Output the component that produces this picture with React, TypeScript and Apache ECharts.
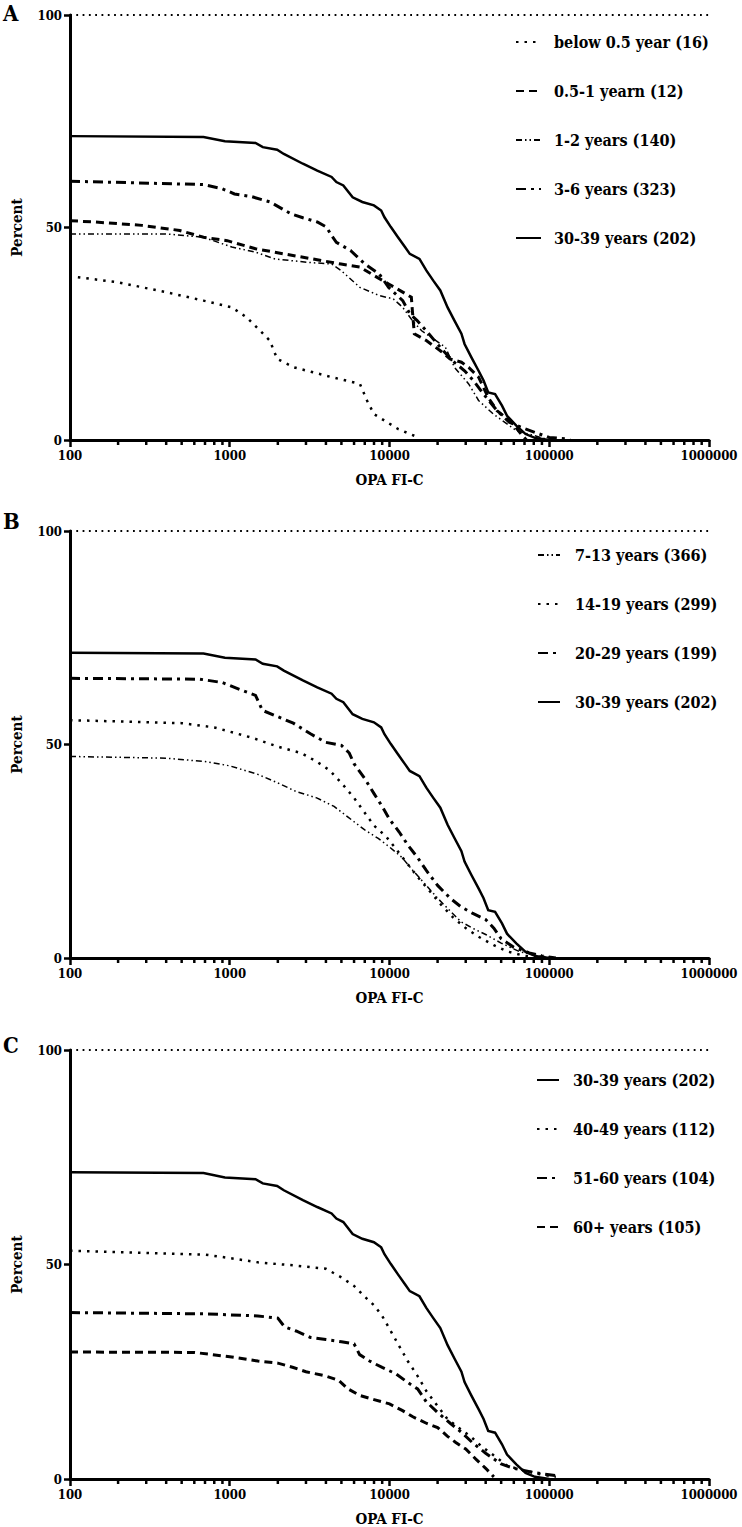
import React, { useEffect, useRef } from "react";
import * as echarts from "echarts";

const FONT = "DejaVu Serif Condensed, DejaVu Serif, serif";

const xTickLabels = [100, 1000, 10000, 100000, 1000000];
const minorTicks = [
  200, 300, 400, 500, 600, 700, 800, 900,
  2000, 3000, 4000, 5000, 6000, 7000, 8000, 9000,
  20000, 30000, 40000, 50000, 60000, 70000, 80000, 90000,
  200000, 300000, 400000, 500000, 600000, 700000, 800000, 900000,
];
const yTicks = [0, 50, 100];

const g3039X = [100, 685, 933, 1450, 1610, 1980, 2180, 2870, 3530, 4340, 4650, 5140, 5880, 6760, 7990, 8870, 9300, 10200, 11300, 12500, 13400, 15400, 17000, 18800, 20800, 23100, 25500, 28200, 29500, 32500, 36100, 38800, 41500, 45800, 50600, 54400, 62200, 71100, 81300, 100000];
const g3039Y = [71.5, 71.3, 70.3, 69.9, 68.9, 68.3, 67.3, 65.0, 63.4, 61.9, 60.7, 59.9, 57.1, 56.0, 55.2, 54.0, 52.4, 50.1, 47.7, 45.4, 43.8, 42.6, 39.9, 37.5, 35.2, 31.2, 28.1, 25.0, 22.6, 19.5, 16.3, 14.0, 11.2, 10.8, 8.1, 5.7, 3.4, 1.4, 0.5, 0];

const aBelowX = [112, 200, 397, 685, 1030, 1270, 1550, 1780, 1980, 2520, 4340, 6530, 7230, 7990, 11300, 14300];
const aBelowY = [38.3, 37.1, 34.8, 32.8, 31.2, 28.9, 25.7, 23.4, 19.1, 17.1, 14.8, 13.2, 9.3, 6.1, 2.6, 1.0];
const aHalfX = [100, 142, 282, 487, 685, 964, 1450, 2180, 3300, 4970, 6530, 7990, 9880, 12100, 13700, 13900, 14300, 17000, 20800, 23900, 28200, 31300, 36100, 41500, 47100, 58200, 66600, 72000];
const aHalfY = [51.6, 51.3, 50.5, 49.3, 47.7, 46.9, 45.0, 43.8, 42.6, 41.4, 40.7, 38.7, 36.7, 34.8, 33.6, 30.5, 25.0, 23.4, 21.0, 19.1, 18.3, 17.1, 14.8, 10.0, 6.9, 4.2, 1.4, 0];
const a12X = [100, 397, 685, 1030, 1450, 1920, 3080, 4340, 4970, 6530, 8610, 10560, 12100, 13900, 15900, 18200, 22400, 25500, 31300, 36100, 44700, 54400, 62200, 81300, 100000];
const a12Y = [48.5, 48.5, 47.7, 45.4, 44.2, 42.6, 41.8, 41.4, 39.9, 35.9, 34.0, 33.2, 31.2, 28.1, 25.7, 24.2, 21.8, 17.1, 13.2, 9.3, 6.1, 3.8, 2.2, 1.0, 0];
const a36X = [100, 685, 900, 1070, 1360, 1790, 2420, 2870, 3530, 4030, 4340, 4650, 5700, 7010, 8610, 9880, 12100, 13400, 14900, 17000, 20800, 24700, 29500, 33500, 38800, 47100, 56200, 66600, 81300, 100000, 132000, 135000];
const a36Y = [60.9, 60.1, 59.1, 57.9, 57.3, 56.0, 53.2, 52.3, 51.3, 50.1, 48.1, 46.5, 44.6, 41.4, 39.1, 35.9, 32.8, 29.7, 28.1, 25.7, 21.8, 18.7, 16.3, 14.0, 10.8, 6.9, 4.2, 3.0, 1.8, 0.6, 0.2, 0];

const b713X = [100, 400, 700, 1000, 1500, 2000, 2600, 3500, 4500, 5500, 7000, 8500, 10000, 12000, 14000, 17000, 20000, 24000, 28000, 33000, 40000, 50000, 65000, 85000, 110000];
const b713Y = [47.2, 46.8, 46.0, 45.0, 43.0, 41.0, 39.0, 37.5, 35.5, 33.0, 30.0, 28.0, 26.0, 23.5, 20.5, 17.0, 14.0, 11.0, 8.5, 7.0, 5.5, 3.5, 1.5, 0.5, 0];
const b1419X = [100, 500, 800, 1000, 1400, 2000, 2800, 3500, 4200, 5000, 6000, 7000, 8000, 9500, 11000, 13000, 15000, 18000, 21000, 25000, 30000, 36000, 45000, 55000, 70000, 90000];
const b1419Y = [55.7, 55.0, 54.0, 53.0, 51.5, 49.5, 48.0, 46.0, 44.0, 41.0, 37.5, 34.0, 31.0, 28.5, 25.5, 22.0, 19.0, 15.5, 12.5, 9.5, 7.0, 5.0, 3.0, 1.5, 0.5, 0];
const b2029X = [100, 650, 900, 1100, 1450, 1600, 2000, 2500, 3200, 4000, 5000, 5600, 6000, 7000, 8000, 9000, 10000, 11500, 13000, 15000, 17000, 20000, 24000, 28000, 33000, 40000, 45000, 50000, 60000, 75000, 90000, 110000];
const b2029Y = [65.5, 65.3, 64.5, 63.2, 61.5, 58.0, 56.5, 55.0, 52.5, 50.5, 49.8, 48.0, 45.5, 42.0, 38.5, 35.5, 32.5, 29.5, 26.5, 23.5, 20.5, 17.0, 14.0, 12.0, 10.5, 9.0, 7.0, 4.5, 2.5, 1.2, 0.5, 0];

const c4049X = [100, 700, 1000, 1500, 2500, 4000, 5000, 6000, 7000, 8000, 9000, 10000, 11500, 13000, 15000, 17000, 20000, 23000, 27000, 32000, 38000, 45000, 55000, 70000, 90000, 110000];
const c4049Y = [53.2, 52.3, 51.5, 50.5, 49.8, 49.0, 47.0, 45.0, 42.5, 40.5, 38.0, 35.0, 31.0, 27.5, 24.0, 20.5, 17.0, 14.0, 12.0, 10.0, 7.5, 5.5, 3.0, 2.0, 1.0, 0.5];
const c5160X = [100, 700, 1500, 2000, 2200, 2600, 3200, 4000, 5000, 6000, 6500, 7500, 9000, 11000, 13000, 15000, 17000, 20000, 24000, 28000, 33000, 40000, 50000, 60000, 80000, 100000, 110000];
const c5160Y = [38.8, 38.5, 38.0, 37.5, 35.5, 34.5, 33.0, 32.5, 32.0, 31.5, 29.0, 27.5, 26.0, 24.5, 22.5, 21.0, 18.0, 15.5, 13.0, 11.0, 8.5, 6.0, 3.5, 2.5, 1.5, 1.0, 0.8];
const c60X = [100, 600, 1000, 1500, 2000, 2500, 3000, 4000, 4800, 5500, 6500, 8000, 10000, 12000, 14000, 17000, 20000, 23000, 26000, 30000, 35000, 40000, 45000];
const c60Y = [29.6, 29.5, 28.5, 27.5, 27.0, 26.0, 25.0, 24.0, 23.0, 21.0, 19.5, 18.5, 17.5, 16.0, 14.5, 13.0, 12.0, 10.0, 8.5, 7.0, 4.5, 2.5, 0.5];

const STYLES: Record<string, any> = {
  solid: { width: 2.5, type: "solid" },
  dotted: { width: 2.5, type: [2.5, 6] },
  dashed: { width: 3, type: [8, 5] },
  dashdot: { width: 3, type: [10, 5, 3, 5] },
  dashdotdot: { width: 1.5, type: [6, 3, 1.5, 3, 1.5, 3] },
};

const panels = [
  {
    label: "A", labelTop: 2, top: 15, height: 425, legendLeft: 510, legendTop: 29, iconW: 25, textPad: 8,
    series: [
      { name: "below 0.5 year (16)", x: aBelowX, y: aBelowY, style: "dotted" },
      { name: "0.5-1 yearn (12)", x: aHalfX, y: aHalfY, style: "dashed" },
      { name: "1-2 years (140)", x: a12X, y: a12Y, style: "dashdotdot" },
      { name: "3-6 years (323)", x: a36X, y: a36Y, style: "dashdot" },
      { name: "30-39 years (202)", x: g3039X, y: g3039Y, style: "solid" },
    ],
  },
  {
    label: "B", labelTop: 510, top: 531, height: 427, legendLeft: 532, legendTop: 542, iconW: 22, textPad: 10,
    series: [
      { name: "7-13 years (366)", x: b713X, y: b713Y, style: "dashdotdot" },
      { name: "14-19 years (299)", x: b1419X, y: b1419Y, style: "dotted" },
      { name: "20-29 years (199)", x: b2029X, y: b2029Y, style: "dashdot" },
      { name: "30-39 years (202)", x: g3039X, y: g3039Y, style: "solid" },
    ],
  },
  {
    label: "C", labelTop: 1034, top: 1050, height: 431, legendLeft: 531, legendTop: 1067, iconW: 22, textPad: 9,
    series: [
      { name: "30-39 years (202)", x: g3039X, y: g3039Y, style: "solid" },
      { name: "40-49 years (112)", x: c4049X, y: c4049Y, style: "dotted" },
      { name: "51-60 years (104)", x: c5160X, y: c5160Y, style: "dashdot" },
      { name: "60+ years (105)", x: c60X, y: c60Y, style: "dashed" },
    ],
  },
];

export default function App() {
  const ref = useRef<HTMLDivElement>(null);
  useEffect(() => {
    if (!ref.current) return;
    const chart = echarts.init(ref.current, undefined, { renderer: "svg" });
    const textBold = { fontFamily: FONT, fontWeight: "bold" as const, color: "#000" };

    const grid: any[] = [];
    const xAxis: any[] = [];
    const yAxis: any[] = [];
    const series: any[] = [];
    const legend: any[] = [];
    const title: any[] = [];

    panels.forEach((p, i) => {
      grid.push({ left: 70, right: 33, top: p.top, height: p.height, containLabel: false });
      xAxis.push({
        type: "log", logBase: 10, min: 100, max: 1000000, gridIndex: i,
        axisLine: { show: true, onZero: false, lineStyle: { color: "#000", width: 3 } },
        axisTick: { show: true, length: 7, lineStyle: { color: "#000", width: 2.5 } },
        axisLabel: {
          ...textBold, fontSize: 13, margin: 9,
          formatter: (v: number) => {
            const r = Math.round(v);
            return xTickLabels.includes(r) ? String(r) : "";
          },
        },
        splitLine: { show: false },
        minorTick: { show: false },
        name: "OPA FI-C", nameLocation: "middle", nameGap: 32,
        nameTextStyle: { ...textBold, fontSize: 15 },
      });
      yAxis.push({
        type: "value", min: 0, max: 100, interval: 50, gridIndex: i,
        axisLine: { show: true, lineStyle: { color: "#000", width: 3 } },
        axisTick: { show: true, length: 6, lineStyle: { color: "#000", width: 2.5 } },
        axisLabel: {
          ...textBold, fontSize: 13, margin: 8,
          formatter: (v: number) => (yTicks.includes(v) ? String(v) : ""),
        },
        splitLine: { show: false },
        name: "Percent", nameLocation: "middle", nameGap: 46, nameRotate: 90,
        nameTextStyle: { ...textBold, fontSize: 15 },
      });
      p.series.forEach((s, k) => {
        const st = STYLES[s.style];
        series.push({
          type: "line", name: s.name, xAxisIndex: i, yAxisIndex: i,
          data: s.x.map((xv, j) => [xv, s.y[j]]),
          symbol: "none", showSymbol: false, smooth: false,
          lineStyle: { color: "#000", width: st.width, type: st.type, cap: "butt", join: "miter" },
          itemStyle: { color: "#000" },
          z: 3,
          markLine: k === 0 ? {
            silent: true, symbol: "none", label: { show: false },
            lineStyle: { color: "#000", width: 1.8, type: [1.8, 4.5] },
            data: [{ yAxis: 100 }],
          } : undefined,
        });
      });
      series.push({
        type: "custom", name: "minor-ticks-" + i, xAxisIndex: i, yAxisIndex: i,
        clip: false, silent: true,
        data: minorTicks.map((v) => [v, 0]),
        encode: { x: 0, y: 1 },
        renderItem: (params: any, api: any) => {
          const pt = api.coord([api.value(0), 0]);
          return {
            type: "line",
            shape: { x1: pt[0], y1: pt[1], x2: pt[0], y2: pt[1] + 5 },
            style: { stroke: "#000", lineWidth: 2.5 },
          };
        },
      });
      legend.push({
        show: true, orient: "vertical", left: p.legendLeft, top: p.legendTop,
        itemWidth: p.iconW, itemHeight: 20, itemGap: 33, selectedMode: false,
        itemStyle: { opacity: 0 },
        data: p.series.map((s) => s.name),
        textStyle: { ...textBold, fontSize: 16, padding: [0, 0, 0, p.textPad] },
      });
      title.push({
        text: p.label, left: 3, top: p.labelTop, padding: 0,
        textStyle: { ...textBold, fontSize: 22 },
      });
    });

    chart.setOption({ animation: false, backgroundColor: "#fff", title, grid, xAxis, yAxis, legend, series });
    return () => chart.dispose();
  }, []);
  return <div ref={ref} style={{ position: "absolute", left: 0, top: 0, width: 742, height: 1527 }} />;
}
